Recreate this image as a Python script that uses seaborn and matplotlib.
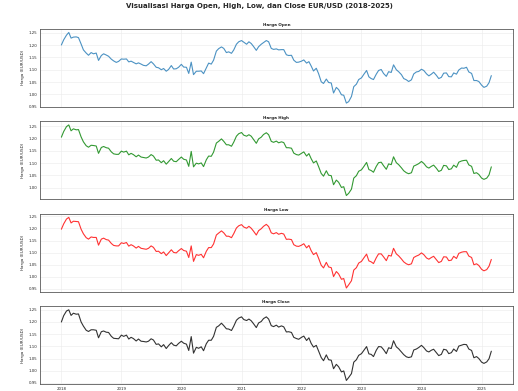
import pandas as pd
import seaborn as sns
import matplotlib.pyplot as plt

dates = pd.date_range("2018-01-01", "2025-03-01", freq="SMS")

close_px = [
    # 2018
    1.200, 1.226, 1.245, 1.250, 1.227, 1.236, 1.232, 1.233, 1.200, 1.183, 1.166, 1.161,
    1.168, 1.168, 1.166, 1.135, 1.160, 1.163, 1.158, 1.157, 1.141, 1.133, 1.132, 1.131,
    # 2019
    1.146, 1.141, 1.146, 1.130, 1.137, 1.132, 1.122, 1.130, 1.121, 1.120, 1.118, 1.121,
    1.131, 1.126, 1.108, 1.110, 1.098, 1.107, 1.091, 1.103, 1.115, 1.105, 1.102, 1.112,
    # 2020
    1.121, 1.113, 1.109, 1.083, 1.140, 1.072, 1.096, 1.092, 1.098, 1.082, 1.111, 1.125,
    1.125, 1.141, 1.178, 1.184, 1.195, 1.185, 1.172, 1.171, 1.165, 1.183, 1.207, 1.216,
    # 2021
    1.221, 1.210, 1.206, 1.212, 1.205, 1.193, 1.177, 1.196, 1.202, 1.214, 1.221, 1.212,
    1.185, 1.181, 1.187, 1.179, 1.184, 1.180, 1.159, 1.160, 1.157, 1.137, 1.132, 1.129,
    # 2022
    1.137, 1.142, 1.124, 1.135, 1.112, 1.097, 1.104, 1.081, 1.054, 1.041, 1.065, 1.045,
    1.043, 1.008, 1.026, 1.016, 0.995, 0.999, 0.960, 0.972, 0.988, 1.035, 1.045, 1.063,
    # 2023
    1.070, 1.083, 1.099, 1.069, 1.067, 1.058, 1.084, 1.099, 1.098, 1.087, 1.070, 1.094,
    1.091, 1.123, 1.098, 1.090, 1.077, 1.066, 1.057, 1.054, 1.057, 1.085, 1.089, 1.095,
    # 2024
    1.104, 1.095, 1.081, 1.077, 1.084, 1.088, 1.074, 1.062, 1.067, 1.088, 1.085, 1.070,
    1.074, 1.089, 1.079, 1.101, 1.105, 1.108, 1.107, 1.089, 1.083, 1.053, 1.058, 1.050,
    # 2025
    1.035, 1.030, 1.036, 1.049, 1.080,
]

open_px = [
    1.201, 1.222, 1.241, 1.252, 1.229, 1.233, 1.234, 1.231, 1.205, 1.181, 1.168, 1.159,
    1.170, 1.165, 1.168, 1.138, 1.158, 1.165, 1.160, 1.155, 1.143, 1.136, 1.130, 1.134,
    1.144, 1.143, 1.144, 1.132, 1.135, 1.130, 1.124, 1.128, 1.123, 1.118, 1.116, 1.123,
    1.133, 1.124, 1.110, 1.108, 1.100, 1.105, 1.094, 1.101, 1.117, 1.103, 1.104, 1.110,
    1.122, 1.111, 1.110, 1.085, 1.131, 1.080, 1.094, 1.094, 1.095, 1.084, 1.108, 1.127,
    1.123, 1.139, 1.176, 1.186, 1.193, 1.187, 1.170, 1.173, 1.167, 1.181, 1.204, 1.214,
    1.219, 1.212, 1.204, 1.214, 1.207, 1.195, 1.179, 1.194, 1.204, 1.211, 1.219, 1.214,
    1.187, 1.183, 1.185, 1.181, 1.182, 1.182, 1.161, 1.158, 1.159, 1.139, 1.130, 1.131,
    1.135, 1.140, 1.127, 1.133, 1.115, 1.095, 1.106, 1.084, 1.051, 1.044, 1.062, 1.048,
    1.046, 1.005, 1.028, 1.019, 0.998, 0.996, 0.964, 0.970, 0.991, 1.031, 1.041, 1.060,
    1.067, 1.081, 1.097, 1.071, 1.064, 1.060, 1.082, 1.097, 1.101, 1.085, 1.073, 1.092,
    1.089, 1.120, 1.100, 1.092, 1.080, 1.064, 1.059, 1.052, 1.059, 1.083, 1.091, 1.093,
    1.102, 1.097, 1.083, 1.075, 1.082, 1.090, 1.077, 1.064, 1.069, 1.086, 1.087, 1.072,
    1.071, 1.087, 1.082, 1.099, 1.107, 1.106, 1.110, 1.091, 1.085, 1.056, 1.056, 1.052,
    1.037, 1.028, 1.033, 1.047, 1.076,
]

high_px = [
    1.206, 1.229, 1.249, 1.256, 1.232, 1.240, 1.236, 1.237, 1.207, 1.187, 1.171, 1.165,
    1.173, 1.172, 1.170, 1.140, 1.164, 1.168, 1.163, 1.161, 1.146, 1.138, 1.136, 1.136,
    1.149, 1.145, 1.149, 1.134, 1.140, 1.135, 1.126, 1.133, 1.125, 1.123, 1.121, 1.125,
    1.135, 1.129, 1.112, 1.113, 1.102, 1.110, 1.096, 1.106, 1.119, 1.108, 1.106, 1.115,
    1.125, 1.116, 1.113, 1.087, 1.148, 1.085, 1.100, 1.097, 1.101, 1.086, 1.114, 1.129,
    1.128, 1.145, 1.182, 1.189, 1.199, 1.189, 1.175, 1.175, 1.169, 1.186, 1.210, 1.220,
    1.225, 1.214, 1.210, 1.216, 1.210, 1.197, 1.181, 1.199, 1.206, 1.217, 1.224, 1.216,
    1.189, 1.185, 1.190, 1.183, 1.187, 1.184, 1.163, 1.163, 1.161, 1.141, 1.135, 1.133,
    1.140, 1.146, 1.129, 1.139, 1.118, 1.101, 1.109, 1.086, 1.058, 1.047, 1.069, 1.051,
    1.049, 1.012, 1.031, 1.022, 1.001, 1.004, 0.968, 0.977, 0.994, 1.039, 1.049, 1.067,
    1.073, 1.086, 1.103, 1.074, 1.070, 1.063, 1.087, 1.102, 1.104, 1.090, 1.075, 1.097,
    1.094, 1.126, 1.102, 1.094, 1.081, 1.069, 1.061, 1.057, 1.061, 1.088, 1.093, 1.098,
    1.107, 1.099, 1.085, 1.080, 1.087, 1.092, 1.079, 1.066, 1.071, 1.091, 1.089, 1.074,
    1.077, 1.092, 1.083, 1.104, 1.109, 1.111, 1.112, 1.093, 1.087, 1.058, 1.061, 1.054,
    1.039, 1.034, 1.039, 1.052, 1.085,
]

low_px = [
    1.197, 1.219, 1.239, 1.246, 1.223, 1.230, 1.229, 1.228, 1.197, 1.178, 1.162, 1.156,
    1.165, 1.163, 1.163, 1.131, 1.156, 1.160, 1.154, 1.152, 1.138, 1.130, 1.128, 1.128,
    1.141, 1.138, 1.142, 1.127, 1.133, 1.128, 1.119, 1.126, 1.118, 1.116, 1.114, 1.118,
    1.128, 1.122, 1.105, 1.106, 1.096, 1.103, 1.088, 1.099, 1.112, 1.101, 1.099, 1.108,
    1.117, 1.109, 1.106, 1.080, 1.128, 1.064, 1.092, 1.089, 1.093, 1.079, 1.106, 1.121,
    1.121, 1.136, 1.173, 1.181, 1.190, 1.182, 1.168, 1.168, 1.162, 1.179, 1.202, 1.211,
    1.216, 1.206, 1.201, 1.209, 1.201, 1.189, 1.173, 1.191, 1.199, 1.209, 1.217, 1.208,
    1.182, 1.178, 1.183, 1.176, 1.180, 1.177, 1.155, 1.156, 1.154, 1.133, 1.127, 1.126,
    1.131, 1.137, 1.120, 1.130, 1.108, 1.092, 1.100, 1.077, 1.048, 1.037, 1.060, 1.041,
    1.038, 1.001, 1.022, 1.012, 0.990, 0.993, 0.954, 0.967, 0.984, 1.028, 1.038, 1.057,
    1.064, 1.078, 1.094, 1.066, 1.062, 1.055, 1.079, 1.095, 1.095, 1.083, 1.067, 1.089,
    1.086, 1.118, 1.095, 1.087, 1.074, 1.062, 1.054, 1.050, 1.054, 1.080, 1.086, 1.090,
    1.099, 1.092, 1.078, 1.073, 1.080, 1.085, 1.071, 1.059, 1.064, 1.083, 1.082, 1.067,
    1.069, 1.085, 1.076, 1.097, 1.102, 1.104, 1.104, 1.086, 1.080, 1.050, 1.054, 1.047,
    1.031, 1.025, 1.030, 1.044, 1.072,
]

df = pd.DataFrame({"Date": dates, "Open": open_px, "High": high_px,
                   "Low": low_px, "Close": close_px})

panels = [("Open", "Harga Open", "tab:blue"),
          ("High", "Harga High", "green"),
          ("Low", "Harga Low", "red"),
          ("Close", "Harga Close", "black")]

# === Plot ===
sns.set_style("whitegrid", {"axes.edgecolor": "0.35", "grid.color": "0.92"})
fig, axes = plt.subplots(4, 1, figsize=(5.18, 3.91), dpi=100, sharex=True)
fig.subplots_adjust(left=0.077, right=0.99, top=0.926, bottom=0.018, hspace=0.19)

for ax, (col, title, color) in zip(axes, panels):
    sns.lineplot(data=df, x="Date", y=col, ax=ax, color=color, linewidth=0.8, alpha=0.8)
    ax.set_title(title, fontsize=3, fontweight="bold", pad=2)
    ax.set_ylabel("Harga (EUR/USD)", fontsize=3, labelpad=2.5)
    ax.set_xlabel("")
    ax.tick_params(labelsize=2.8, length=1, width=0.4, pad=1)
    for s in ax.spines.values():
        s.set_linewidth(0.6)
    ax.grid(linewidth=0.4)

fig.suptitle("Visualisasi Harga Open, High, Low, dan Close EUR/USD (2018-2025)",
             fontsize=5, fontweight="bold", y=0.992)
plt.savefig("out.png", dpi=100)
